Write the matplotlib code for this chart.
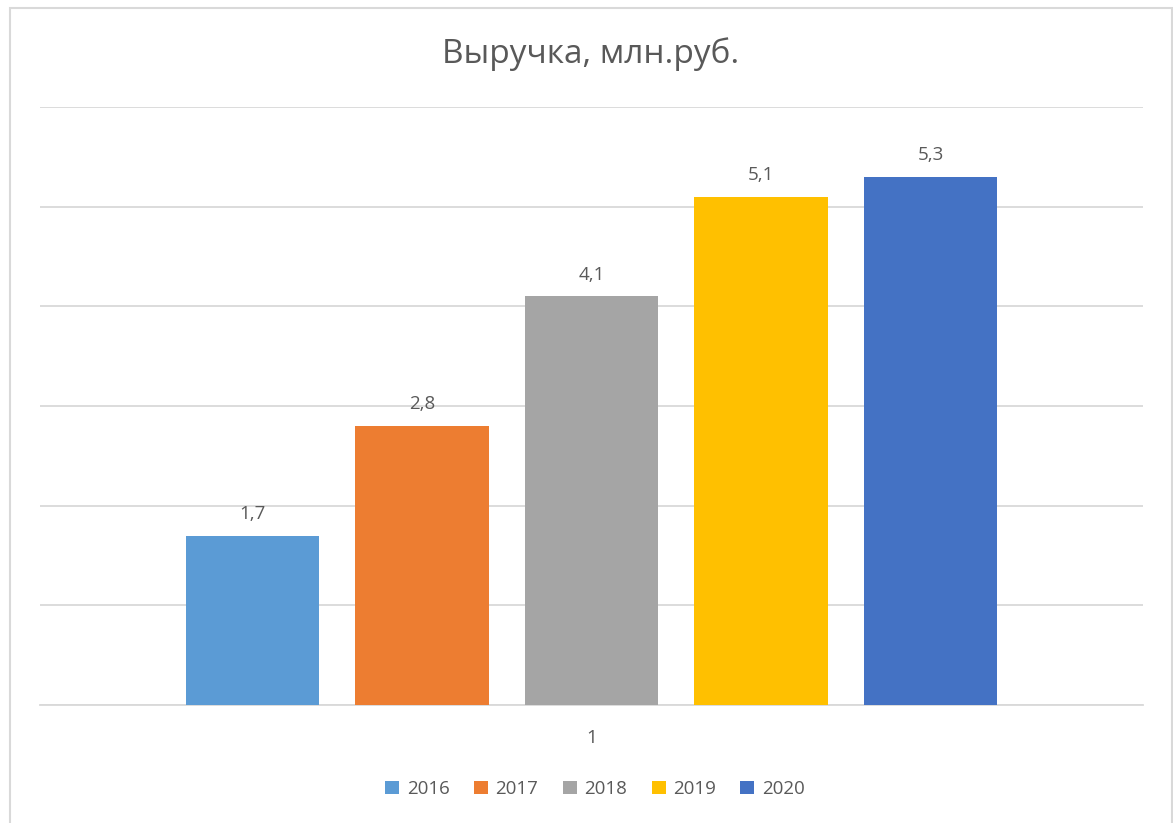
import matplotlib
matplotlib.use("Agg")
from matplotlib import pyplot as plt
from matplotlib.patches import Rectangle

plt.rcParams['font.family'] = ['Open Sans', 'DejaVu Sans']

years = ['2016', '2017', '2018', '2019', '2020']
values = [1.7, 2.8, 4.1, 5.1, 5.3]
colors = ['#5b9bd5', '#ed7d31', '#a5a5a5', '#ffc000', '#4472c4']
title = 'Выручка, млн.руб.'
category = '1'

txt = '#595959'
grid = '#d9d9d9'

fig = plt.figure(figsize=(11.73, 8.23), dpi=100)
fig.patch.set_facecolor('white')
# chart border
fig.add_artist(Rectangle((10 / 1173, -0.01), 1162 / 1173, 1 - 8 / 823 + 0.01,
                         transform=fig.transFigure, fill=False,
                         edgecolor=grid, linewidth=1.5))

ax = fig.add_axes([40 / 1173, 1 - 705 / 823, 1103 / 1173, 598 / 823])
ax.set_xlim(-3.254, 3.254)
ax.set_ylim(0, 6)

xs = [i - 2 for i in range(len(years))]
bars = ax.bar(xs, values, width=0.79, color=colors, label=years, zorder=3)
for x, v in zip(xs, values):
    ax.annotate(f'{v:.1f}'.replace('.', ','), (x, v), xytext=(0, 9),
                textcoords='offset points', ha='center', va='bottom',
                fontsize=13.5, color=txt)

ax.set_yticks([0, 1, 2, 3, 4, 5, 6])
ax.set_yticklabels([])
ax.yaxis.grid(True, color=grid, linewidth=1.3, zorder=0)
ax.tick_params(axis='y', length=0)
ax.set_xticks([0])
ax.set_xticklabels([category], fontsize=13.5, color=txt)
ax.tick_params(axis='x', length=0, pad=17)
for s in ['top', 'right', 'left']:
    ax.spines[s].set_visible(False)
ax.spines['bottom'].set_color(grid)
ax.spines['bottom'].set_linewidth(1.3)

fig.text(591 / 1173, 1 - 54 / 823, title, ha='center', va='center',
         fontsize=24, color=txt)

leg = fig.legend(handles=list(bars), labels=years, loc='center',
                 bbox_to_anchor=(595 / 1173, 1 - 789 / 823), ncol=5,
                 frameon=False, fontsize=13.5, handlelength=0.75,
                 handleheight=0.75, handletextpad=0.4, columnspacing=1.3)
for t in leg.get_texts():
    t.set_color(txt)

fig.savefig('out.png', dpi=100)
